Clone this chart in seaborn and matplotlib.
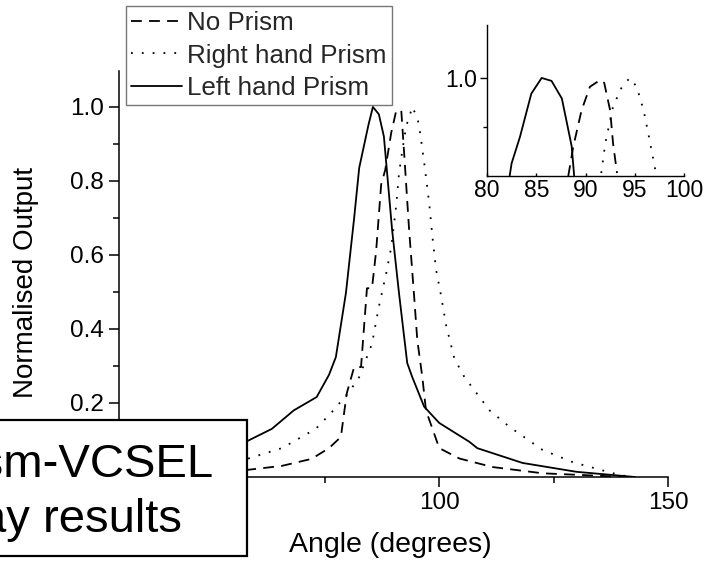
import matplotlib
matplotlib.use("Agg")
import matplotlib.pyplot as plt
from matplotlib.patches import Rectangle
from matplotlib.ticker import FixedLocator
import seaborn as sns

# ---------------- data ----------------
no_prism_angle = [30, 45, 57.9, 65.6, 72.1, 75.9, 78.5, 79.2, 79.8, 81.4, 82.9, 84.2, 85.3,
                  86.2, 87.3, 88.2, 89.5, 90.6, 91.7, 92.3, 93.4, 94.5, 95.2, 96.3, 97.1,
                  100, 104.4, 111.6, 122.6, 141]
no_prism_out = [0.005, 0.01, 0.019, 0.03, 0.049, 0.078, 0.108, 0.173, 0.227, 0.297, 0.297, 0.51, 0.51,
                0.61, 0.79, 0.83, 0.93, 0.99, 0.99, 0.88, 0.67, 0.49, 0.37, 0.27, 0.18,
                0.078, 0.05, 0.027, 0.01, 0.0]

right_angle = [30, 45, 58.3, 65.6, 73.0, 76.5, 80.3, 82.5, 85.3, 86.8, 88.4, 89.5, 90.6, 91.2,
               91.9, 92.8, 93.4, 94.1, 95.2, 95.6, 96.7, 97.8, 98.5, 99.3, 100.4, 101.5,
               103.3, 105.5, 111, 115.4, 122.6, 129.2, 138, 141.7]
right_out = [0.01, 0.025, 0.05, 0.078, 0.13, 0.175, 0.23, 0.27, 0.36, 0.46, 0.55, 0.62, 0.735, 0.82,
             0.88, 0.95, 0.97, 1.0, 0.97, 0.95, 0.85, 0.74, 0.65, 0.56, 0.49, 0.41,
             0.32, 0.27, 0.18, 0.135, 0.073, 0.04, 0.01, 0.0]

left_angle = [30, 45, 57.7, 63.4, 68.2, 73.2, 75.9, 77.4, 79.6, 81.4, 82.5, 84.5, 85.5, 86.8,
              87.9, 89.7, 91.2, 93.0, 94.1, 96.7, 100, 106.6, 108.3, 118.2, 130, 142.8]
left_out = [0.02, 0.05, 0.095, 0.13, 0.18, 0.216, 0.276, 0.324, 0.497, 0.70, 0.835, 0.95, 1.0, 0.98,
            0.92, 0.667, 0.497, 0.308, 0.27, 0.19, 0.146, 0.095, 0.078, 0.038, 0.014, 0.0]

# inset (peak region)
inset_left_angle = [82.3, 82.5, 83.35, 84.5, 85.55, 86.55, 87.6, 88.4, 88.6, 88.85]
inset_left_out = [0.0, 0.13, 0.40, 0.84, 1.0, 0.97, 0.79, 0.40, 0.30, 0.0]
inset_no_angle = [88.25, 88.76, 89.6, 90.45, 91.5, 91.9, 92.5, 92.8, 93.2]
inset_no_out = [0.0, 0.30, 0.67, 0.91, 0.98, 0.95, 0.67, 0.33, 0.03]
inset_right_angle = [91.6, 92.0, 92.8, 93.7, 94.5, 95.2, 95.9, 96.5, 97.15]
inset_right_out = [0.03, 0.33, 0.71, 0.91, 1.0, 0.91, 0.67, 0.37, 0.03]

series_labels = ["No Prism", "Right hand Prism", "Left hand Prism"]
box_lines = ["Prism-VCSEL", "Array results"]

# ---------------- style ----------------
sns.set_style("ticks")
plt.rcParams["font.family"] = ["Liberation Sans", "DejaVu Sans"]
plt.rcParams["axes.linewidth"] = 1.1

W, H = 710, 569
fig = plt.figure(figsize=(W / 100, H / 100), dpi=100)

def fx(px):
    return px / W

def fy(py):
    return 1 - py / H

dash = (0, (6, 4))
dot = (0, (1, 5))
lw = 1.3

# ---------------- main axes ----------------
ax = fig.add_axes([fx(119), fy(477), fx(668) - fx(119), fy(71) - fy(477)])
sns.lineplot(x=no_prism_angle, y=no_prism_out, ax=ax, color="black", lw=lw,
             linestyle=dash, estimator=None, label=series_labels[0])
sns.lineplot(x=right_angle, y=right_out, ax=ax, color="black", lw=lw,
             linestyle=dot, estimator=None, label=series_labels[1])
sns.lineplot(x=left_angle, y=left_out, ax=ax, color="black", lw=lw,
             linestyle="-", estimator=None, label=series_labels[2])

ax.set_xlim(30, 150)
ax.set_ylim(0, 1.097)
ax.set_xticks([50, 100, 150])
ax.xaxis.set_minor_locator(FixedLocator([75, 125]))
ax.set_yticks([0.2, 0.4, 0.6, 0.8, 1.0])
ax.set_yticklabels(["0.2", "0.4", "0.6", "0.8", "1.0"])
ax.yaxis.set_minor_locator(FixedLocator([0.1, 0.3, 0.5, 0.7, 0.9]))
ax.tick_params(axis="both", which="major", labelsize=17.5, length=7, width=1.1,
               color="black", labelcolor="black", pad=4)
ax.tick_params(axis="both", which="minor", length=4, width=1.1, color="black")
sns.despine(ax=ax)
for s in ("left", "bottom"):
    ax.spines[s].set_color("black")

ax.set_xlabel("Angle (degrees)", fontsize=20.5, color="black")
ax.set_ylabel("Normalised Output", fontsize=20, color="black")
ax.xaxis.set_label_coords(0.494, -0.136)
ax.yaxis.set_label_coords(-0.145, 0.48)

handles, labels = ax.get_legend_handles_labels()
ax.get_legend().remove()
leg = fig.legend(handles, labels, loc="upper left",
                 bbox_to_anchor=(fx(126), fy(6)), fontsize=18.7,
                 frameon=True, fancybox=False, edgecolor="#555555",
                 handlelength=1.95, handletextpad=0.2, labelspacing=0.32,
                 borderpad=0.2, borderaxespad=0)
leg.get_frame().set_linewidth(1.0)

# ---------------- inset ----------------
axi = fig.add_axes([fx(487), fy(176), fx(684) - fx(487), fy(25) - fy(176)])
axi.patch.set_alpha(0)
sns.lineplot(x=inset_left_angle, y=inset_left_out, ax=axi, color="black", lw=lw,
             linestyle="-", estimator=None)
sns.lineplot(x=inset_no_angle, y=inset_no_out, ax=axi, color="black", lw=lw,
             linestyle=dash, estimator=None)
sns.lineplot(x=inset_right_angle, y=inset_right_out, ax=axi, color="black", lw=lw,
             linestyle=dot, estimator=None)
axi.set_xlim(80, 100)
axi.set_ylim(0, 1.54)
axi.set_xticks([80, 85, 90, 95, 100])
axi.set_yticks([1.0])
axi.set_yticklabels(["1.0"])
axi.yaxis.set_minor_locator(FixedLocator([0.5]))
axi.tick_params(axis="both", which="major", labelsize=16.5, width=1.0, color="black",
                labelcolor="black", pad=2)
axi.tick_params(axis="x", which="major", length=2, direction="in")
axi.tick_params(axis="y", which="major", length=5)
axi.tick_params(axis="y", which="minor", length=3, width=1.0, color="black")
sns.despine(ax=axi)
for s in ("left", "bottom"):
    axi.spines[s].set_color("black")
    axi.spines[s].set_linewidth(1.0)

# ---------------- overlay text box ----------------
rect = Rectangle((fx(-20), fy(556)), fx(247) - fx(-20), fy(420) - fy(556),
                 transform=fig.transFigure, facecolor="white", edgecolor="black",
                 lw=1.6, zorder=10)
fig.add_artist(rect)
fig.text(fx(213), fy(477), box_lines[0], ha="right", va="baseline",
         fontsize=34, color="black", zorder=11)
fig.text(fx(182), fy(532), box_lines[1], ha="right", va="baseline",
         fontsize=34, color="black", zorder=11)

fig.savefig("out.png", dpi=100)
